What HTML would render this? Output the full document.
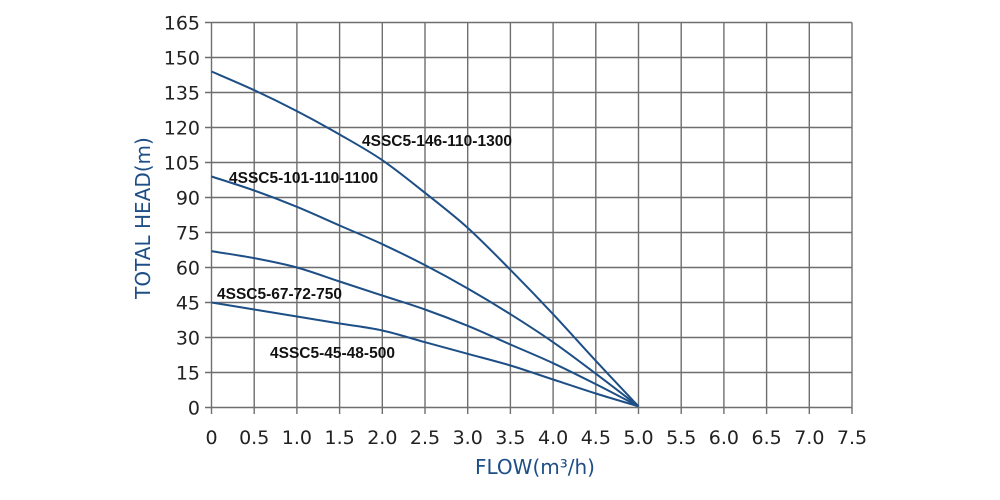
<!DOCTYPE html>
<html><head><meta charset="utf-8"><style>
html,body{margin:0;padding:0;background:#fff;width:1000px;height:500px;overflow:hidden}
</style></head><body>
<svg id="s" width="1000" height="500" xmlns="http://www.w3.org/2000/svg" font-family="'DejaVu Sans','Liberation Sans',sans-serif"></svg>
<script>
const s=document.getElementById('s');
const X=v=>211.5+v*85.4, Y=v=>407.5-v*2.3333;
let h='';
for(let i=0;i<=15;i++){const x=X(i*0.5);h+=`<line x1="${x}" y1="22.5" x2="${x}" y2="414" stroke="#6e6e6e" stroke-width="1.4"/>`;
 h+=`<text x="${x}" y="444" font-size="19" fill="#222" text-anchor="middle">${i==0?'0':(i*0.5).toFixed(1)}</text>`;}
for(let j=0;j<=11;j++){const y=Y(j*15);h+=`<line x1="205" y1="${y}" x2="852" y2="${y}" stroke="#6e6e6e" stroke-width="1.4"/>`;
 h+=`<text x="200" y="${y+7}" font-size="19" fill="#222" text-anchor="end">${j*15}</text>`;}
const curves=[[144,136,127,117,106,92,77,59,40,20,0.5],[99,93,86,78,70,61,51,40,28,14.5,0.5],[67,64,60,54,48,42,35,27,19,10,0.5],[45,42,39,36,33,28,23,18,12,6,0.5]];
curves.forEach(c=>{const p=c.map((v,i)=>[X(i*0.5),Y(v)]);let d=`M${p[0]}`;
 for(let i=0;i<p.length-1;i++){const a=p[i-1]||p[i],b=p[i],c2=p[i+1],e=p[i+2]||c2;
  d+=` C${b[0]+(c2[0]-a[0])/6},${b[1]+(c2[1]-a[1])/6} ${c2[0]-(e[0]-b[0])/6},${c2[1]-(e[1]-b[1])/6} ${c2[0]},${c2[1]}`;}
 h+=`<path fill="none" stroke="#1d4f86" stroke-width="2" d="${d}"/>`;});
const lab=[[362,146,'4SSC5-146-110-1300'],[229,183,'4SSC5-101-110-1100'],[217,299,'4SSC5-67-72-750'],[270,358,'4SSC5-45-48-500']];
lab.forEach(l=>h+=`<text x="${l[0]}" y="${l[1]}" font-family="'Liberation Sans',sans-serif" font-weight="bold" font-size="15.5" fill="#111">${l[2]}</text>`);
h+=`<text x="535" y="474" font-size="20" fill="#1d4f86" text-anchor="middle">FLOW(m³/h)</text>`;
h+=`<text transform="translate(150,218) rotate(-90)" font-size="20" fill="#1d4f86" text-anchor="middle">TOTAL HEAD(m)</text>`;
s.innerHTML=h;
</script>
</body></html>
